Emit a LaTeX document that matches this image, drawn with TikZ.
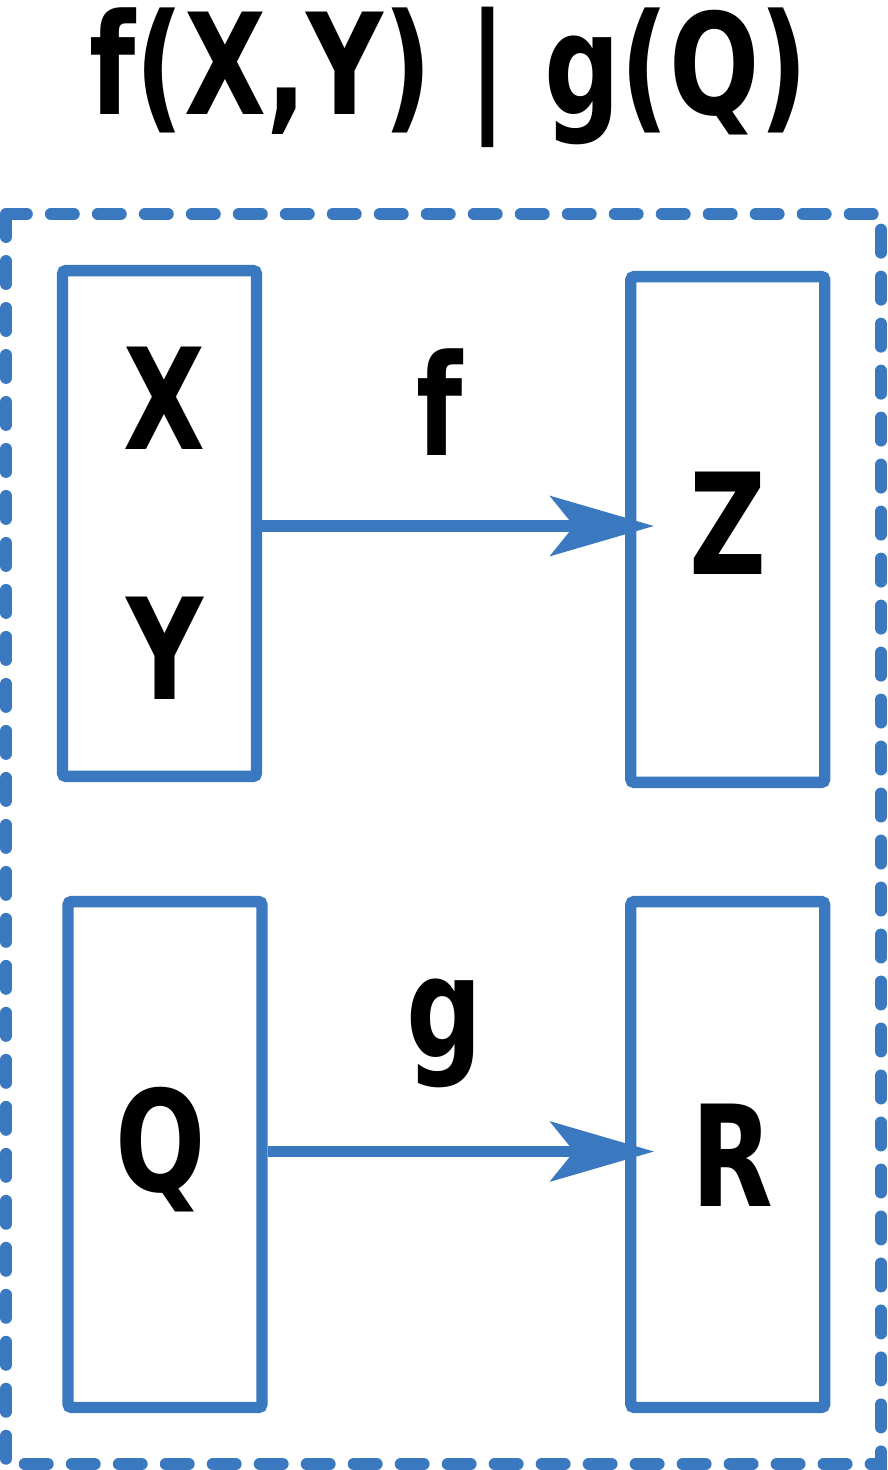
\documentclass[tikz,border=0pt]{standalone}
\usepackage{fontspec}
\setmainfont{DejaVu Sans Condensed}
\usetikzlibrary{arrows.meta}
\definecolor{boxblue}{HTML}{3A78BF}

\tikzset{
  varbox/.style={draw=boxblue, line width=6.5pt, rounded corners=2pt, inner sep=0pt,
    minimum width=3.88cm, minimum height=10.12cm},
  var/.style={font=\fontsize{80}{90}\selectfont\bfseries, inner sep=0pt, xscale=0.84},
  flow/.style={draw=boxblue, line width=6.5pt,
    -{Stealth[length=2.07cm, width=1.19cm, inset=0.47cm]}, shorten >=-0.58cm}
}

\begin{document}
\begin{tikzpicture}[x=0.02cm, y=-0.02cm]
    \useasboundingbox (0,0) rectangle (887,1470);

    % Title
    \node[var] (title) at (449,77) {f(X,Y) | g(Q)};

    % Outer dashed frame
    \draw[boxblue, line width=6.8pt, line cap=round, dash pattern=on 0.46cm off 0.48cm]
        (6,214) rectangle (881,1464);

    % Inputs
    \node[varbox] (xy) at (159.5,523.5) {};
    \node[var] (x) at (164.5,398.5) {X};
    \node[var] (y) at (164.5,648.5) {Y};
    \node[varbox] (q) at (165,1154.5) {};
    \node[var] (qlabel) at (161,1150) {Q};

    % Outputs
    \node[varbox] (z) at (727.75,529.5) {};
    \node[var] (zlabel) at (728,523) {Z};
    \node[varbox] (r) at (727.75,1154.5) {};
    \node[var] (rlabel) at (732,1155) {R};

    % Arrows
    \draw[flow] ([yshift=-0.05cm]xy.east) -- ([yshift=-0.05cm]xy.east -| z.west);
    \draw[flow] ([yshift=0.06cm]q.east) -- ([yshift=0.06cm]q.east -| r.west);

    % Function labels
    \node[var] (f) at (440,402) {f};
    \node[var] (g) at (445,1033) {g};
\end{tikzpicture}
\end{document}
